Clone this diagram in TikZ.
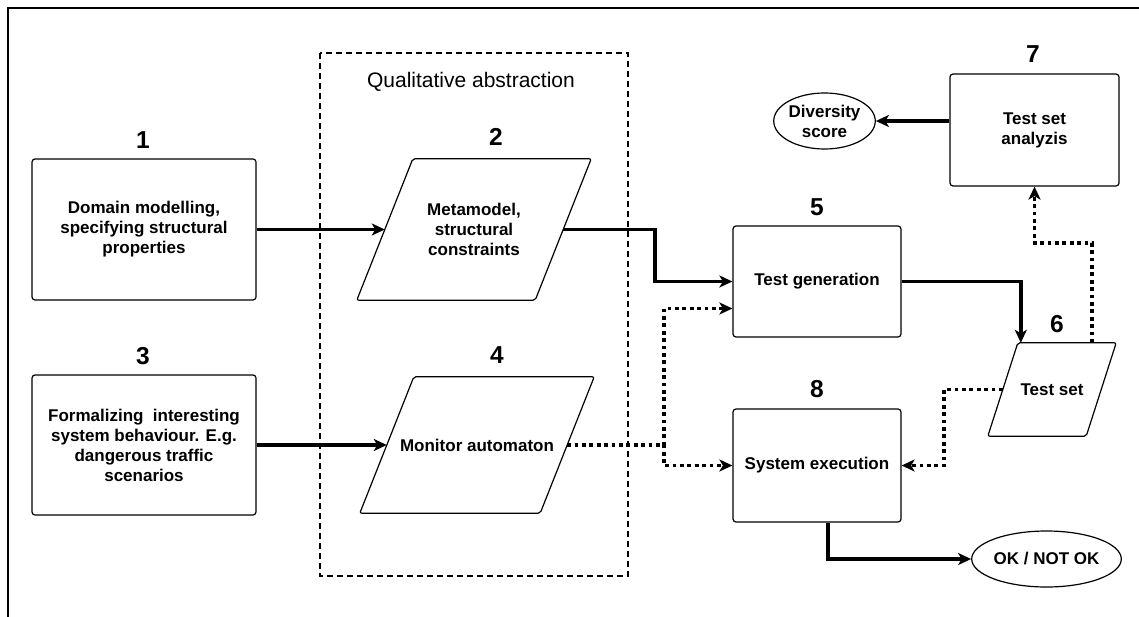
\documentclass[tikz,border=0pt]{standalone}
\usepackage{fontspec}
\setmainfont{Liberation Sans}
\usetikzlibrary{arrows.meta,shapes.geometric}

\tikzset{
  stepbox/.style={draw, line width=1.2pt, rounded corners=3pt, fill=white,
    align=center, inner sep=0pt,
    font=\bfseries\fontsize{17}{20}\selectfont},
  slantbox/.style={inner sep=0pt, align=center,
    font=\bfseries\fontsize{17}{20}\selectfont},
  outcome/.style={draw, ellipse, line width=1.2pt, inner sep=0pt, align=center,
    font=\bfseries\fontsize{17}{20}\selectfont},
  numlabel/.style={font=\bfseries\fontsize{24.5}{28}\selectfont, inner sep=0pt},
  flow/.style={line width=3.6pt, -{Stealth[length=13pt,width=12pt,inset=3.5pt]}},
  dataflow/.style={line width=3.6pt, dash pattern=on 3.8pt off 3.6pt,
    -{Stealth[length=13pt,width=12pt,inset=3.5pt]}},
  shapeline/.style={line width=1.2pt, rounded corners=2pt, line join=round}
}

\begin{document}
\begin{tikzpicture}[x=1pt, y=-1pt]
\useasboundingbox (0,0) rectangle (1139,617);

% outer frame (top and left edges)
\draw[line width=1.8pt] (8,617) -- (8,8) -- (1139,8);

% qualitative abstraction group
\draw[line width=1.1pt, dash pattern=on 6pt off 4pt] (320,53) rectangle (628,576);
\node[font=\fontsize{21}{24}\selectfont, inner sep=0pt] (qa) at (471,82) {Qualitative abstraction};

% process boxes
\node[stepbox, minimum width=224pt, minimum height=141pt] (b1) at (144,229.5)
  {Domain modelling,\\specifying structural\\properties};
\node[stepbox, minimum width=224pt, minimum height=140pt] (b3) at (144,445)
  {Formalizing\ \ interesting\\system behaviour. E.g.\\dangerous traffic\\scenarios};
\node[stepbox, minimum width=168pt, minimum height=111pt] (b5) at (817,281.5) {Test generation};
\node[stepbox, minimum width=168pt, minimum height=113pt] (b8) at (817,465.5) {System execution};
\node[stepbox, minimum width=169pt, minimum height=112pt] (b7) at (1034.5,130) {Test set\\analyzis};

% data (parallelogram) boxes: text nodes spanning the full outline
\node[slantbox, minimum width=234pt, minimum height=141pt] (p2) at (474,229.5)
  {Metamodel,\\structural\\constraints};
\node[slantbox, minimum width=234pt, minimum height=136pt] (p4) at (477,445) {Monitor automaton};
\node[slantbox, minimum width=128pt, minimum height=93pt] (p6) at (1052,389.5) {Test set};
\foreach \n/\s in {p2/56, p4/54, p6/30}
  \draw[shapeline] (\n.south west) -- ([xshift=\s pt]\n.north west)
    -- (\n.north east) -- ([xshift=-\s pt]\n.south east) -- cycle;

% terminal ellipses
\node[outcome, minimum width=97pt, minimum height=56pt] (div) at (824.5,121) {Diversity\\score};
\node[outcome, minimum width=135pt, minimum height=56pt] (ok) at (1046.5,559) {OK / NOT OK};

% step numbers
\node[numlabel] (n1) at (143,140) {1};
\node[numlabel] (n2) at (496,137) {2};
\node[numlabel] (n3) at (143,356) {3};
\node[numlabel] (n4) at (497,355) {4};
\node[numlabel] (n5) at (817,207) {5};
\node[numlabel] (n6) at (1057,324) {6};
\node[numlabel] (n7) at (1033,54) {7};
\node[numlabel] (n8) at (817,389) {8};

% bend points
\coordinate (k25) at (655,229.5);
\coordinate (k4)  at (664,445);
\coordinate (k67) at (1034.5,243);
\coordinate (k68) at (944,389.5);

% solid flows
\draw[flow] (b1.east) -- ([xshift=28pt]p2.west);
\draw[flow] (b3.east) -- ([xshift=27pt]p4.west);
\draw[flow] ([xshift=-28pt]p2.east) -- (k25) |- (b5.west);
\draw[flow] (b5.east) -| ([xshift=33pt]p6.north west);
\draw[flow] ([yshift=9pt]b7.west) -- (div.east);
\draw[flow] ([xshift=11pt]b8.south) |- (ok.west);

% dotted flows
\draw[dataflow] ([xshift=-27pt]p4.east) -- (k4) |- ([yshift=-27pt]b5.west);
\draw[dataflow] ([xshift=-27pt]p4.east) -- (k4) |- (b8.west);
\draw[dataflow] ([xshift=15pt]p6.west) -- (k68) |- (b8.east);
\draw[dataflow] ([xshift=-24pt]p6.north east) |- (k67) -- (b7.south);
\end{tikzpicture}
\end{document}
